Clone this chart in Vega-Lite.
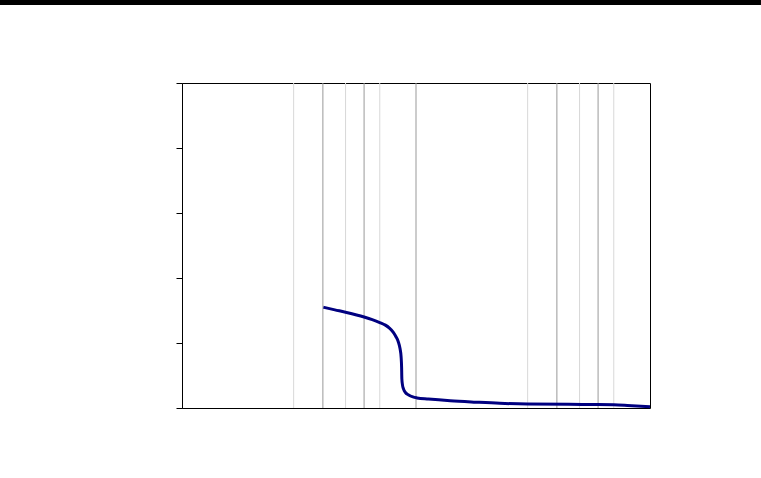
{
  "$schema": "https://vega.github.io/schema/vega-lite/v6.json",
  "autosize": {"type": "none"},
  "width": 468,
  "height": 325,
  "padding": {"left": 182, "top": 83, "right": 111, "bottom": 70},
  "background": "white",
  "config": {"view": {"stroke": "black", "strokeWidth": 1}},
  "datasets": {
    "grid": [
      {"g": 3, "kind": "minor"}, {"g": 4, "kind": "major"}, {"g": 5, "kind": "minor"},
      {"g": 6, "kind": "major"}, {"g": 7, "kind": "minor"}, {"g": 10, "kind": "major"},
      {"g": 30, "kind": "minor"}, {"g": 40, "kind": "major"}, {"g": 50, "kind": "minor"},
      {"g": 60, "kind": "major"}, {"g": 70, "kind": "minor"}
    ],
    "curve": [
      {"x": 4.02, "y": 1.55}, {"x": 4.5, "y": 1.51}, {"x": 5.05, "y": 1.47},
      {"x": 6.0, "y": 1.40}, {"x": 6.5, "y": 1.36}, {"x": 7.0, "y": 1.315},
      {"x": 7.4, "y": 1.275}, {"x": 7.7, "y": 1.23}, {"x": 8.0, "y": 1.165},
      {"x": 8.2, "y": 1.10}, {"x": 8.4, "y": 1.02}, {"x": 8.55, "y": 0.91},
      {"x": 8.64, "y": 0.78}, {"x": 8.68, "y": 0.62}, {"x": 8.7, "y": 0.45},
      {"x": 8.75, "y": 0.36}, {"x": 8.85, "y": 0.29}, {"x": 9.0, "y": 0.24},
      {"x": 9.3, "y": 0.20}, {"x": 9.7, "y": 0.17}, {"x": 10.1, "y": 0.155},
      {"x": 11.3, "y": 0.138}, {"x": 14, "y": 0.112}, {"x": 18, "y": 0.09},
      {"x": 22.8, "y": 0.072}, {"x": 30, "y": 0.06}, {"x": 45, "y": 0.056},
      {"x": 60, "y": 0.055}, {"x": 70, "y": 0.05}, {"x": 80, "y": 0.04},
      {"x": 100, "y": 0.02}
    ],
    "bar": [{"x1": 0.1667, "x2": 298, "y1": 6.277, "y2": 6.2}]
  },
  "layer": [
    {
      "data": {"name": "grid"},
      "mark": {"type": "rule", "strokeWidth": 1},
      "encoding": {
        "x": {"field": "g", "type": "quantitative", "scale": {"type": "log", "domain": [1, 100]}, "axis": null},
        "color": {"field": "kind", "type": "nominal", "scale": {"domain": ["minor", "major"], "range": ["#d8d8d8", "#999999"]}, "legend": null}
      }
    },
    {
      "data": {"name": "curve"},
      "mark": {"type": "line", "color": "#000080", "strokeWidth": 3, "interpolate": "monotone"},
      "encoding": {
        "x": {"field": "x", "type": "quantitative", "scale": {"type": "log", "domain": [1, 100]},
          "axis": {"values": [1, 10, 100], "labels": false, "title": null, "grid": false, "domainColor": "black", "tickColor": "black", "tickSize": 5, "domainWidth": 1}},
        "y": {"field": "y", "type": "quantitative", "scale": {"domain": [0, 5]},
          "axis": {"values": [0, 1, 2, 3, 4, 5], "labels": false, "title": null, "grid": false, "domainColor": "black", "tickColor": "black", "tickSize": 6, "domainWidth": 1}}
      }
    },
    {
      "data": {"name": "bar"},
      "mark": {"type": "rect", "color": "black", "clip": false},
      "encoding": {
        "x": {"field": "x1", "type": "quantitative"},
        "x2": {"field": "x2"},
        "y": {"field": "y1", "type": "quantitative"},
        "y2": {"field": "y2"}
      }
    }
  ],
  "resolve": {"scale": {"color": "independent"}}
}
